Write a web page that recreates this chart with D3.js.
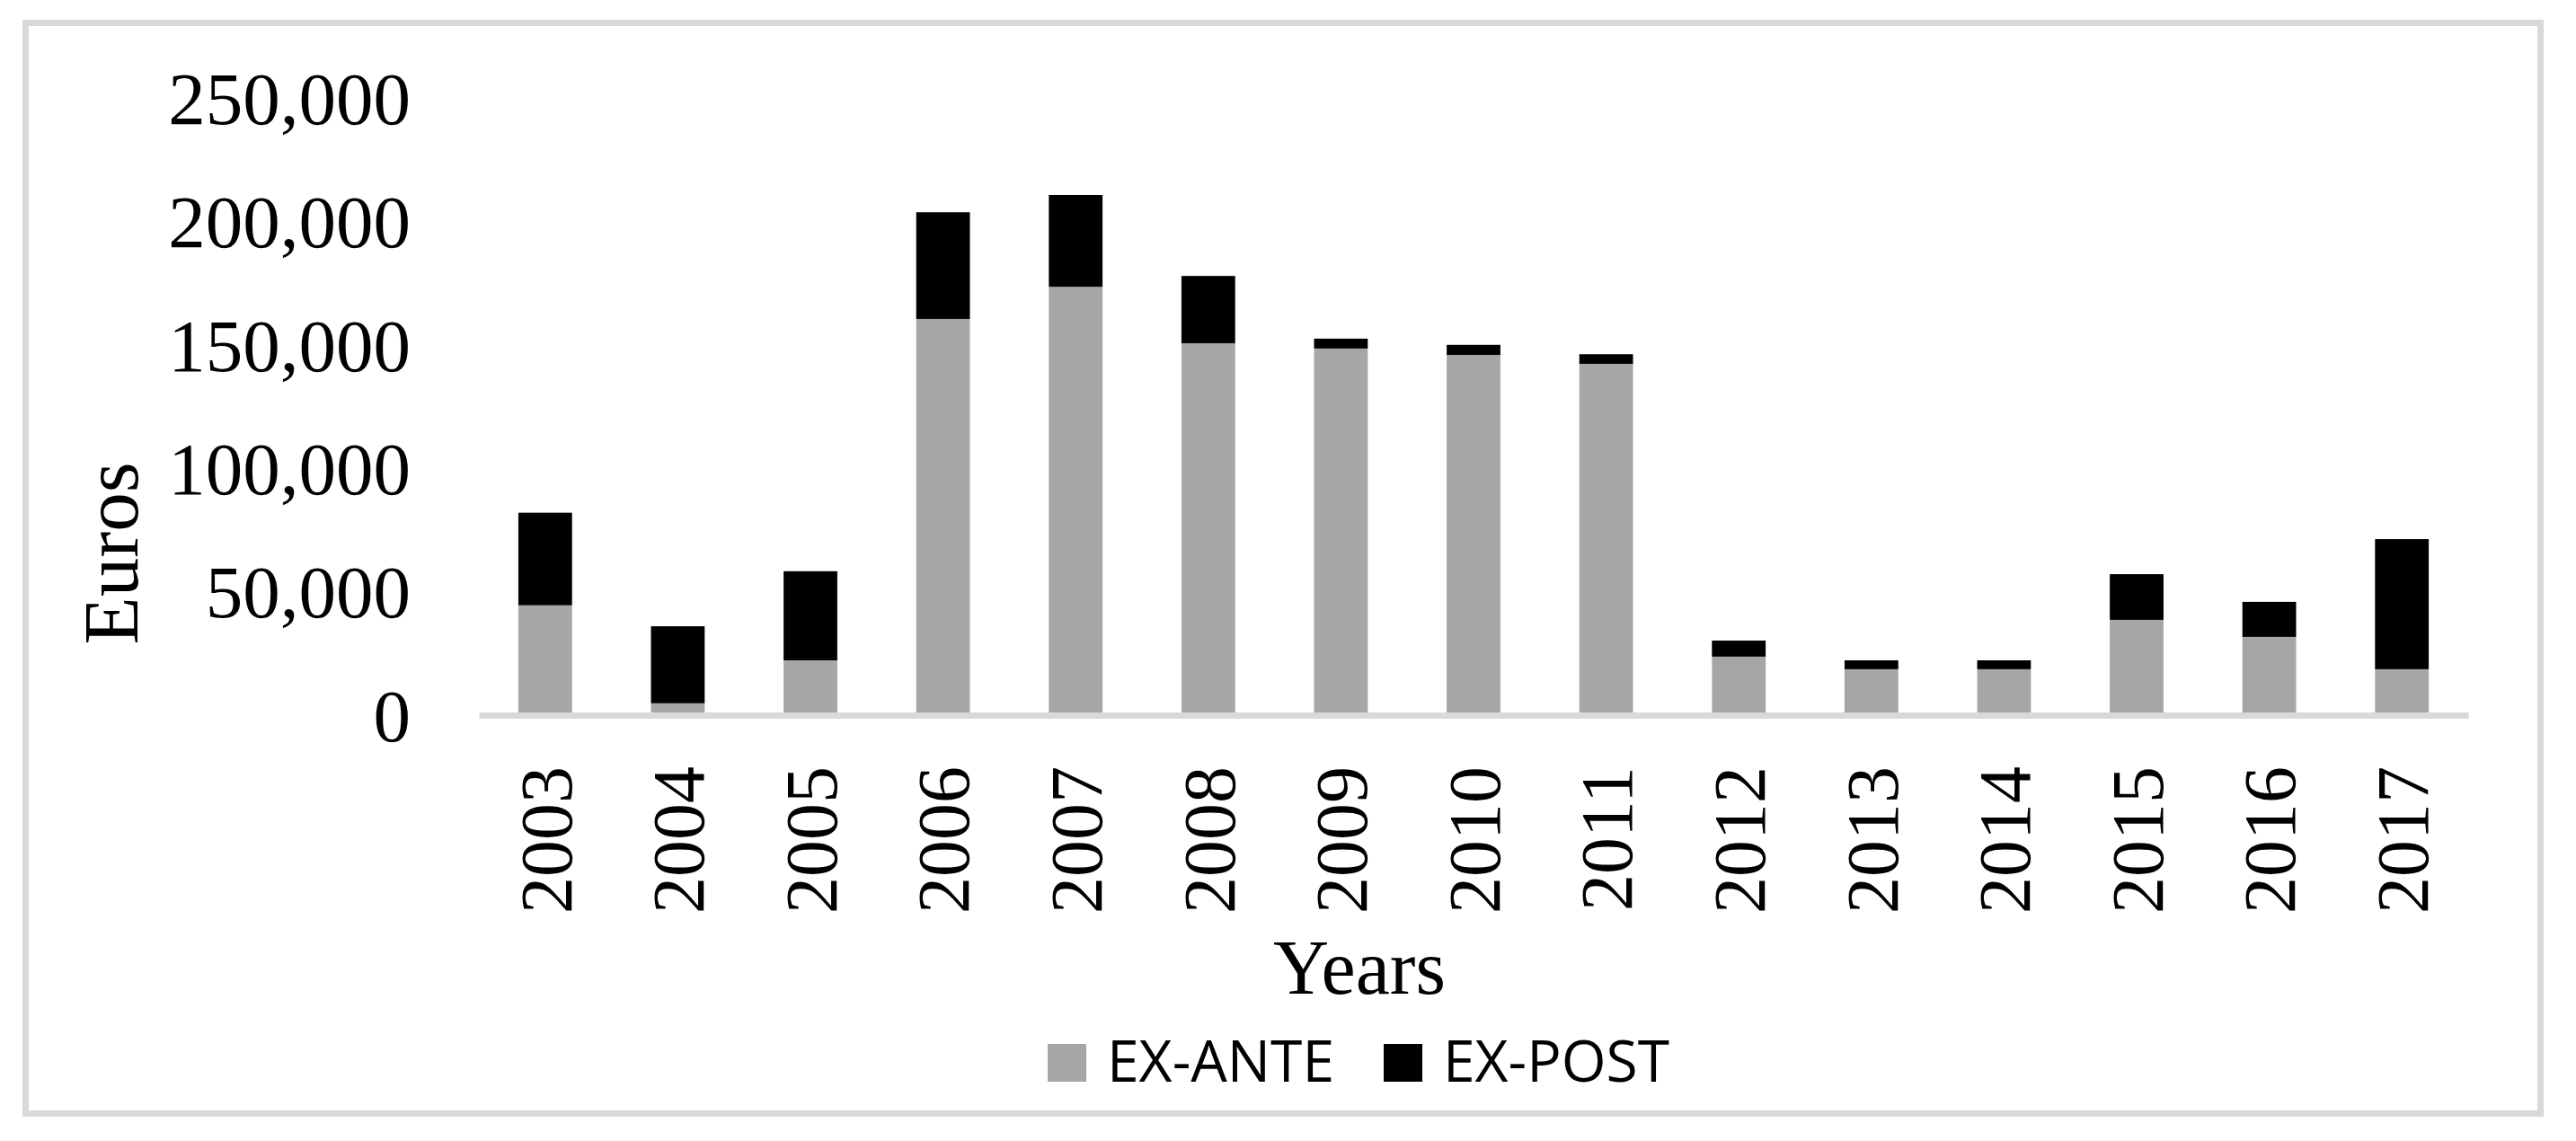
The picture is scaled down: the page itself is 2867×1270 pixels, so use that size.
<!DOCTYPE html>
<html>
<head>
<meta charset="utf-8">
<script src="https://cdn.jsdelivr.net/npm/d3@7"></script>
<style>
    body { margin: 0; background: #fff; }
</style>
</head>
<body>
<div id="chart-area"></div>
<script>

// values (euros)
let years = ["2003", "2004", "2005", "2006", "2007", "2008", "2009", "2010",
             "2011", "2012", "2013", "2014", "2015", "2016", "2017"];
let exAnte = [44500, 4800, 22200, 160500, 173500, 150600, 148500, 145900,
              142300, 23700, 18600, 18600, 38600, 31700, 18600];
let exPost = [37500, 31200, 36100, 43200, 37200, 27300, 4000, 4100,
              3900, 6500, 3600, 3600, 18500, 14200, 52700];
let yTicks = [0, 50000, 100000, 150000, 200000, 250000];
let seriesNames = ["EX-ANTE", "EX-POST"];
let seriesColors = ["#a6a6a6", "#000000"];

let width = 2867, height = 1270;

let svg = d3.select("#chart-area").append("svg")
    .attr("width", width)
    .attr("height", height);

// outer frame
svg.append("rect")
    .attr("x", 28.5).attr("y", 25.5)
    .attr("width", 2799).attr("height", 1214)
    .attr("fill", "#fff")
    .attr("stroke", "#d9d9d9")
    .attr("stroke-width", 7);

// table for the stack layout
let rows = years.map((yr, i) => ({year: yr, "EX-ANTE": exAnte[i], "EX-POST": exPost[i]}));
let stacked = d3.stack().keys(seriesNames)(rows);

// scales
let x = d3.scaleBand()
    .domain(years)
    .range([533, 2747])
    .paddingInner(0.595)
    .paddingOuter(0.2975);

let y = d3.scaleLinear()
    .domain([0, 250000])
    .range([796, 109]);

let color = d3.scaleOrdinal().domain(seriesNames).range(seriesColors);

// bars
svg.append("g")
    .selectAll("g")
    .data(stacked)
    .enter()
    .append("g")
    .attr("fill", d => color(d.key))
    .selectAll("rect")
    .data(d => d)
    .enter()
    .append("rect")
    .attr("x", d => x(d.data.year))
    .attr("y", d => y(d[1]))
    .attr("width", x.bandwidth())
    .attr("height", d => y(d[0]) - y(d[1]));

// y axis (labels only)
let yAxis = d3.axisLeft(y)
    .tickValues(yTicks)
    .tickFormat(d3.format(","))
    .tickSize(0)
    .tickPadding(0);

let yG = svg.append("g")
    .attr("transform", "translate(457,0)")
    .call(yAxis);
yG.select(".domain").remove();
yG.selectAll("text")
    .attr("font-family", "'Liberation Serif', 'Times New Roman', serif")
    .attr("font-size", 83)
    .attr("fill", "#000")
    .attr("dy", "0.34em");

// x axis
let xAxis = d3.axisBottom(x)
    .tickSize(0)
    .tickSizeOuter(0);

let xG = svg.append("g")
    .attr("transform", "translate(0,796)")
    .call(xAxis);
xG.select(".domain")
    .attr("stroke", "#d9d9d9")
    .attr("stroke-width", 7);
xG.selectAll("text")
    .attr("font-family", "'Liberation Serif', 'Times New Roman', serif")
    .attr("font-size", 82)
    .attr("fill", "#000")
    .attr("text-anchor", "end")
    .attr("transform", "rotate(-90)")
    .attr("x", -57)
    .attr("y", 0)
    .attr("dy", "0.35em");

// axis titles
svg.append("text")
    .attr("transform", "translate(153,616) rotate(-90)")
    .attr("text-anchor", "middle")
    .attr("font-family", "'Liberation Serif', 'Times New Roman', serif")
    .attr("font-size", 87)
    .text("Euros");

svg.append("text")
    .attr("x", 1513)
    .attr("y", 1106)
    .attr("text-anchor", "middle")
    .attr("font-family", "'Liberation Serif', 'Times New Roman', serif")
    .attr("font-size", 86)
    .text("Years");

// legend
let legendX = [1166, 1540];
let legendW = [253, 252];
let legend = svg.append("g")
    .selectAll("g")
    .data(seriesNames)
    .enter()
    .append("g")
    .attr("transform", (d, i) => "translate(" + legendX[i] + ",0)");

legend.append("rect")
    .attr("x", 0)
    .attr("y", 1162)
    .attr("width", 43)
    .attr("height", 42)
    .attr("fill", d => color(d));

legend.append("text")
    .attr("x", 66)
    .attr("y", 1204)
    .attr("font-family", "'Open Sans', 'Noto Sans', sans-serif")
    .attr("font-size", 64)
    .attr("textLength", (d, i) => legendW[i])
    .attr("lengthAdjust", "spacingAndGlyphs")
    .text(d => d);

</script>
</body>
</html>
